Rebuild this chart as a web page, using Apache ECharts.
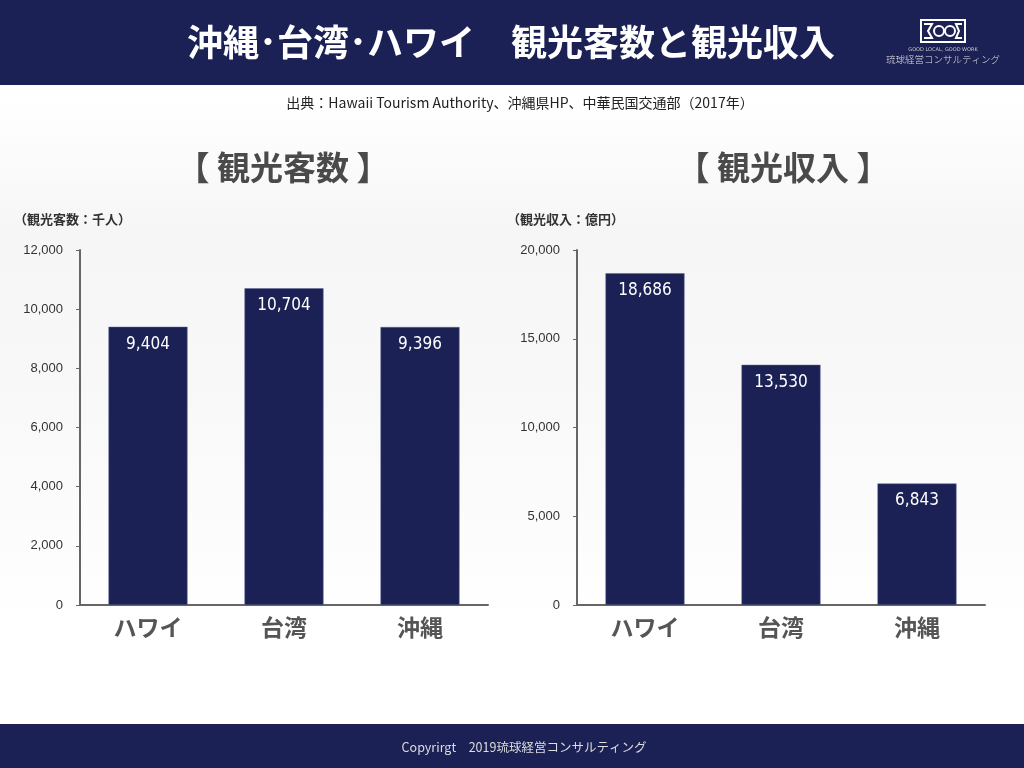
<!DOCTYPE html>
<html><head><meta charset="utf-8">
<script src="https://cdn.jsdelivr.net/npm/echarts@6/dist/echarts.min.js"></script>
<style>html,body{margin:0;padding:0;}#c{width:1024px;height:768px;}</style>
</head><body><div id="c"></div>
<script>
const categories = ['ハワイ', '台湾', '沖縄'];
const visitors = [9404, 10704, 9396];      // 千人
const revenue = [18686, 13530, 6843];      // 億円
const visitorTicks = { min: 0, max: 12000, interval: 2000 };
const revenueTicks = { min: 0, max: 20000, interval: 5000 };

const NAVY = '#1b2155';
const JP = '"Noto Sans CJK JP", "Noto Sans", sans-serif';
const NUM = '"DejaVu Sans Condensed", "Roboto", sans-serif';
const fmt = v => v.toLocaleString('en-US');

const chart = echarts.init(document.getElementById('c'));

function xAx(i) {
  return {
    type: 'category', gridIndex: i, data: categories,
    axisLine: { lineStyle: { color: '#666', width: 2 } },
    axisTick: { show: false },
    axisLabel: { color: '#555', fontSize: 23, fontWeight: 'bold', fontFamily: JP, margin: 11 }
  };
}
function yAx(i, t) {
  return {
    type: 'value', gridIndex: i, min: t.min, max: t.max, interval: t.interval,
    axisLine: { show: true, lineStyle: { color: '#666', width: 2 } },
    axisTick: { show: true, length: 4, lineStyle: { color: '#666' } },
    splitLine: { show: false },
    axisLabel: { color: '#333', fontSize: 13, fontFamily: '"Liberation Sans", Arial, sans-serif', margin: 17, formatter: fmt }
  };
}
function barSeries(i, data) {
  return {
    type: 'bar', xAxisIndex: i, yAxisIndex: i, data: data, barWidth: 79,
    itemStyle: { color: NAVY, borderColor: '#5a6090', borderWidth: 0.5 },
    label: { show: true, position: 'insideTop', distance: 9, color: '#fff',
      fontSize: 17, fontFamily: NUM, formatter: p => fmt(p.value) }
  };
}

chart.setOption({
  backgroundColor: {
    type: 'linear', x: 0, y: 0, x2: 0, y2: 1,
    colorStops: [
      { offset: 0, color: '#ffffff' }, { offset: 0.13, color: '#ffffff' },
      { offset: 0.3, color: '#f6f6f6' }, { offset: 0.5, color: '#f8f8f8' },
      { offset: 0.82, color: '#ffffff' }, { offset: 1, color: '#ffffff' }
    ]
  },
  animation: false,
  grid: [
    { left: 80, right: 536, top: 250, bottom: 163 },
    { left: 577, right: 39, top: 250, bottom: 163 }
  ],
  xAxis: [xAx(0), xAx(1)],
  yAxis: [yAx(0, visitorTicks), yAx(1, revenueTicks)],
  series: [barSeries(0, visitors), barSeries(1, revenue)],
  graphic: [
    { type: 'rect', left: 0, top: 0, shape: { width: 1024, height: 85 }, style: { fill: NAVY }, z: 0 },
    { type: 'rect', left: 0, top: 724, shape: { width: 1024, height: 44 }, style: { fill: NAVY }, z: 0 },
    { type: 'text', x: 511, y: 42, style: { text: '沖縄･台湾･ハワイ　観光客数と観光収入', fill: '#fff',
        font: 'bold 36px ' + JP, textAlign: 'center', textVerticalAlign: 'middle' }, z: 1 },
    // logo
    { type: 'rect', shape: { x: 921, y: 20, width: 44, height: 22 }, style: { fill: 'none', stroke: '#fff', lineWidth: 2 }, z: 1 },
    { type: 'polyline', shape: { points: [[924, 24], [932, 24], [928, 31], [932, 38], [924, 38]] }, style: { fill: 'none', stroke: '#fff', lineWidth: 2 }, z: 1 },
    { type: 'circle', shape: { cx: 939, cy: 31, r: 5 }, style: { fill: 'none', stroke: '#fff', lineWidth: 2 }, z: 1 },
    { type: 'circle', shape: { cx: 950, cy: 31, r: 5 }, style: { fill: 'none', stroke: '#fff', lineWidth: 2 }, z: 1 },
    { type: 'polyline', shape: { points: [[962, 24], [956, 24], [959, 31], [956, 38], [962, 38]] }, style: { fill: 'none', stroke: '#fff', lineWidth: 2 }, z: 1 },
    { type: 'text', x: 943, y: 50, style: { text: 'GOOD LOCAL, GOOD WORK', fill: '#ccc', font: '5px "DejaVu Sans"', textAlign: 'center', textVerticalAlign: 'middle' }, z: 1 },
    { type: 'text', x: 943, y: 59, style: { text: '琉球経営コンサルティング', fill: '#ddd', font: '300 9.5px ' + JP, textAlign: 'center', textVerticalAlign: 'middle' }, z: 1 },
    // subtitle
    { type: 'text', x: 520, y: 103, style: { text: '出典：Hawaii Tourism Authority、沖縄県HP、中華民国交通部（2017年）', fill: '#222',
        font: '14px ' + JP, textAlign: 'center', textVerticalAlign: 'middle' } },
    // section titles
    { type: 'text', x: 283, y: 167, style: { text: '【 観光客数 】', fill: '#4a4a4a', font: 'bold 33px ' + JP, textAlign: 'center', textVerticalAlign: 'middle' } },
    { type: 'text', x: 783, y: 167, style: { text: '【 観光収入 】', fill: '#4a4a4a', font: 'bold 33px ' + JP, textAlign: 'center', textVerticalAlign: 'middle' } },
    // unit labels
    { type: 'text', x: 14, y: 219, style: { text: '（観光客数：千人）', fill: '#333', font: 'bold 13px ' + JP, textAlign: 'left', textVerticalAlign: 'middle' } },
    { type: 'text', x: 507, y: 219, style: { text: '（観光収入：億円）', fill: '#333', font: 'bold 13px ' + JP, textAlign: 'left', textVerticalAlign: 'middle' } },
    // footer
    { type: 'text', x: 524, y: 747, style: { text: 'Copyrirgt　2019琉球経営コンサルティング', fill: '#ddd', font: '12.5px ' + JP, textAlign: 'center', textVerticalAlign: 'middle' }, z: 1 }
  ]
});
</script></body></html>
